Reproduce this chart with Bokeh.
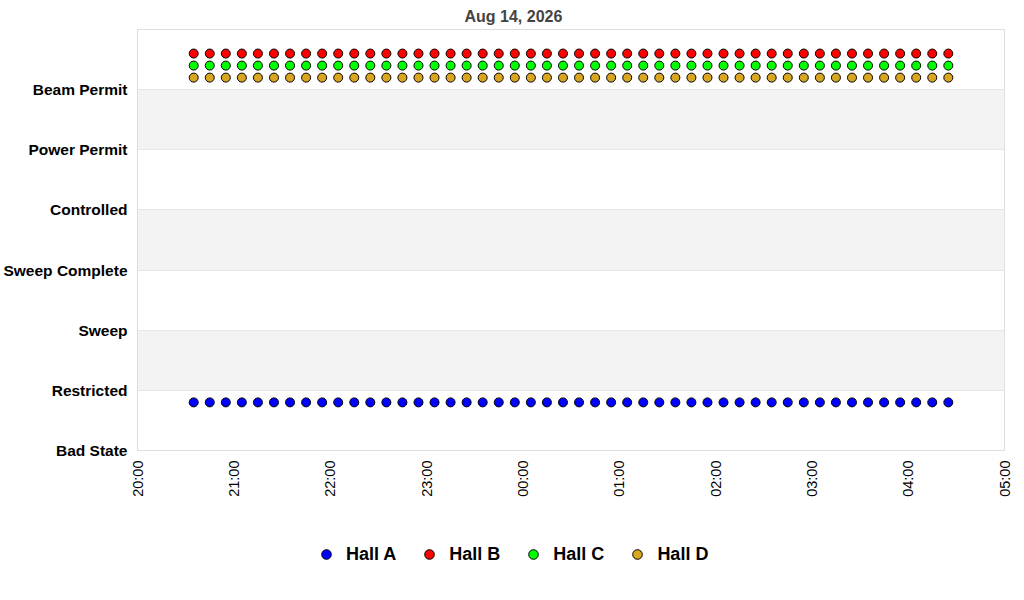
import math
import pandas as pd
from bokeh.plotting import figure
from bokeh.layouts import column
from bokeh.models import (ColumnDataSource, FixedTicker, DatetimeTickFormatter,
                          Legend, LegendItem, Range1d)
from bokeh.embed import file_html
from bokeh.resources import INLINE

title_text = "Aug 14, 2026"
state_labels = ["Bad State", "Restricted", "Sweep", "Sweep Complete",
                "Controlled", "Power Permit", "Beam Permit"]
x_start = "2026-08-14 20:00"
x_end = "2026-08-15 05:00"
tick_times = ["2026-08-14 20:00", "2026-08-14 21:00", "2026-08-14 22:00",
              "2026-08-14 23:00", "2026-08-15 00:00", "2026-08-15 01:00",
              "2026-08-15 02:00", "2026-08-15 03:00", "2026-08-15 04:00",
              "2026-08-15 05:00"]

times = [
    "2026-08-14 20:35", "2026-08-14 20:45", "2026-08-14 20:55",
    "2026-08-14 21:05", "2026-08-14 21:15", "2026-08-14 21:25",
    "2026-08-14 21:35", "2026-08-14 21:45", "2026-08-14 21:55",
    "2026-08-14 22:05", "2026-08-14 22:15", "2026-08-14 22:25",
    "2026-08-14 22:35", "2026-08-14 22:45", "2026-08-14 22:55",
    "2026-08-14 23:05", "2026-08-14 23:15", "2026-08-14 23:25",
    "2026-08-14 23:35", "2026-08-14 23:45", "2026-08-14 23:55",
    "2026-08-15 00:05", "2026-08-15 00:15", "2026-08-15 00:25",
    "2026-08-15 00:35", "2026-08-15 00:45", "2026-08-15 00:55",
    "2026-08-15 01:05", "2026-08-15 01:15", "2026-08-15 01:25",
    "2026-08-15 01:35", "2026-08-15 01:45", "2026-08-15 01:55",
    "2026-08-15 02:05", "2026-08-15 02:15", "2026-08-15 02:25",
    "2026-08-15 02:35", "2026-08-15 02:45", "2026-08-15 02:55",
    "2026-08-15 03:05", "2026-08-15 03:15", "2026-08-15 03:25",
    "2026-08-15 03:35", "2026-08-15 03:45", "2026-08-15 03:55",
    "2026-08-15 04:05", "2026-08-15 04:15", "2026-08-15 04:25",
]

hall_a = [0.8, 0.8, 0.8, 0.8, 0.8, 0.8, 0.8, 0.8, 0.8, 0.8, 0.8, 0.8,
          0.8, 0.8, 0.8, 0.8, 0.8, 0.8, 0.8, 0.8, 0.8, 0.8, 0.8, 0.8,
          0.8, 0.8, 0.8, 0.8, 0.8, 0.8, 0.8, 0.8, 0.8, 0.8, 0.8, 0.8,
          0.8, 0.8, 0.8, 0.8, 0.8, 0.8, 0.8, 0.8, 0.8, 0.8, 0.8, 0.8]
hall_b = [6.6, 6.6, 6.6, 6.6, 6.6, 6.6, 6.6, 6.6, 6.6, 6.6, 6.6, 6.6,
          6.6, 6.6, 6.6, 6.6, 6.6, 6.6, 6.6, 6.6, 6.6, 6.6, 6.6, 6.6,
          6.6, 6.6, 6.6, 6.6, 6.6, 6.6, 6.6, 6.6, 6.6, 6.6, 6.6, 6.6,
          6.6, 6.6, 6.6, 6.6, 6.6, 6.6, 6.6, 6.6, 6.6, 6.6, 6.6, 6.6]
hall_c = [6.4, 6.4, 6.4, 6.4, 6.4, 6.4, 6.4, 6.4, 6.4, 6.4, 6.4, 6.4,
          6.4, 6.4, 6.4, 6.4, 6.4, 6.4, 6.4, 6.4, 6.4, 6.4, 6.4, 6.4,
          6.4, 6.4, 6.4, 6.4, 6.4, 6.4, 6.4, 6.4, 6.4, 6.4, 6.4, 6.4,
          6.4, 6.4, 6.4, 6.4, 6.4, 6.4, 6.4, 6.4, 6.4, 6.4, 6.4, 6.4]
hall_d = [6.2, 6.2, 6.2, 6.2, 6.2, 6.2, 6.2, 6.2, 6.2, 6.2, 6.2, 6.2,
          6.2, 6.2, 6.2, 6.2, 6.2, 6.2, 6.2, 6.2, 6.2, 6.2, 6.2, 6.2,
          6.2, 6.2, 6.2, 6.2, 6.2, 6.2, 6.2, 6.2, 6.2, 6.2, 6.2, 6.2,
          6.2, 6.2, 6.2, 6.2, 6.2, 6.2, 6.2, 6.2, 6.2, 6.2, 6.2, 6.2]

series_names = ["Hall A", "Hall B", "Hall C", "Hall D"]
series_colors = ["#0000ff", "#ff0000", "#00ff00", "#daa520"]

FONT = "Liberation Sans"

W, H = 1016, 520
FRAME_L, FRAME_R, FRAME_T, FRAME_B = 136, 1004, 27, 450

p = figure(width=W, height=H, output_backend="svg", toolbar_location=None,
           x_axis_type="datetime",
           x_range=Range1d(pd.Timestamp(x_start), pd.Timestamp(x_end)),
           y_range=Range1d(0, 7),
           min_border_left=FRAME_L, min_border_right=W - FRAME_R,
           min_border_top=FRAME_T, min_border_bottom=H - FRAME_B,
           title=title_text)

p.title.align = "left"
p.title.text_font = FONT
p.title.text_font_size = "16px"
p.title.text_font_style = "bold"
p.title.text_color = "#444444"
p.title.standoff = 10
p.title.offset = 327

p.outline_line_color = "#dddddd"
p.background_fill_color = "white"
p.border_fill_color = "white"

t = pd.to_datetime(pd.Series(times))
src = ColumnDataSource(dict(t=t, a=hall_a, b=hall_b, c=hall_c, d=hall_d))
keys = ["a", "b", "c", "d"]
for col, key in zip(series_colors, keys):
    p.scatter("t", key, source=src, size=9, fill_color=col,
              line_color="black", line_width=1)

# y axis
p.yaxis.ticker = FixedTicker(ticks=[0, 1, 2, 3, 4, 5, 6, 7])
overrides = {i: lab for i, lab in enumerate(state_labels)}
overrides[7] = ""
p.yaxis.major_label_overrides = overrides
p.yaxis.major_label_text_font = FONT
p.yaxis.major_label_text_font_size = "15.5px"
p.yaxis.major_label_text_font_style = "bold"
p.yaxis.major_label_text_color = "black"
p.yaxis.major_tick_line_color = None
p.yaxis.minor_tick_line_color = None
p.yaxis.axis_line_color = "#dddddd"
p.yaxis.major_label_standoff = 4

p.ygrid.grid_line_color = "#e6e6e6"
p.ygrid.band_fill_color = "#f3f3f3"
p.ygrid.band_fill_alpha = 1.0
p.xgrid.grid_line_color = None

# x axis
tick_ms = [pd.Timestamp(s).value / 1e6 for s in tick_times]
p.xaxis.ticker = FixedTicker(ticks=tick_ms)
p.xaxis.formatter = DatetimeTickFormatter(hours="%H:%M", days="%H:%M",
                                          minutes="%H:%M", hourmin="%H:%M")
p.xaxis.major_label_orientation = math.pi / 2
p.xaxis.major_label_text_font = FONT
p.xaxis.major_label_text_font_size = "14.5px"
p.xaxis.major_label_text_color = "black"
p.xaxis.major_tick_line_color = None
p.xaxis.minor_tick_line_color = None
p.xaxis.axis_line_color = "#dddddd"
p.xaxis.major_label_standoff = 4

# legend strip below the chart: same series, drawn in a range that
# shows no points, so only the legend swatches are visible
LH = 60
lp = figure(width=W, height=LH, output_backend="svg", toolbar_location=None,
            min_border=0, x_range=Range1d(0, 1), y_range=Range1d(0, 1))
lp.axis.visible = False
lp.grid.visible = False
lp.outline_line_color = None
lp.background_fill_color = "white"
lp.border_fill_color = "white"
leg_renderers = []
for col, key in zip(series_colors, keys):
    r = lp.scatter("t", key, source=src, size=9, fill_color=col,
                   line_color="black", line_width=1)
    leg_renderers.append(r)

legend = Legend(items=[LegendItem(label=n, renderers=[r], index=0)
                       for n, r in zip(series_names, leg_renderers)],
                orientation="horizontal", location=(177, 14))
legend.label_text_font = FONT
legend.label_text_font_size = "18px"
legend.label_text_font_style = "bold"
legend.label_text_color = "black"
legend.glyph_width = 24
legend.glyph_height = 24
legend.label_standoff = 8
legend.spacing = 21
legend.padding = 0
legend.margin = 0
legend.border_line_color = None
legend.background_fill_color = None
lp.add_layout(legend, "center")

layout = column(p, lp, spacing=0)
open("out.html", "w").write(file_html(layout, INLINE))
